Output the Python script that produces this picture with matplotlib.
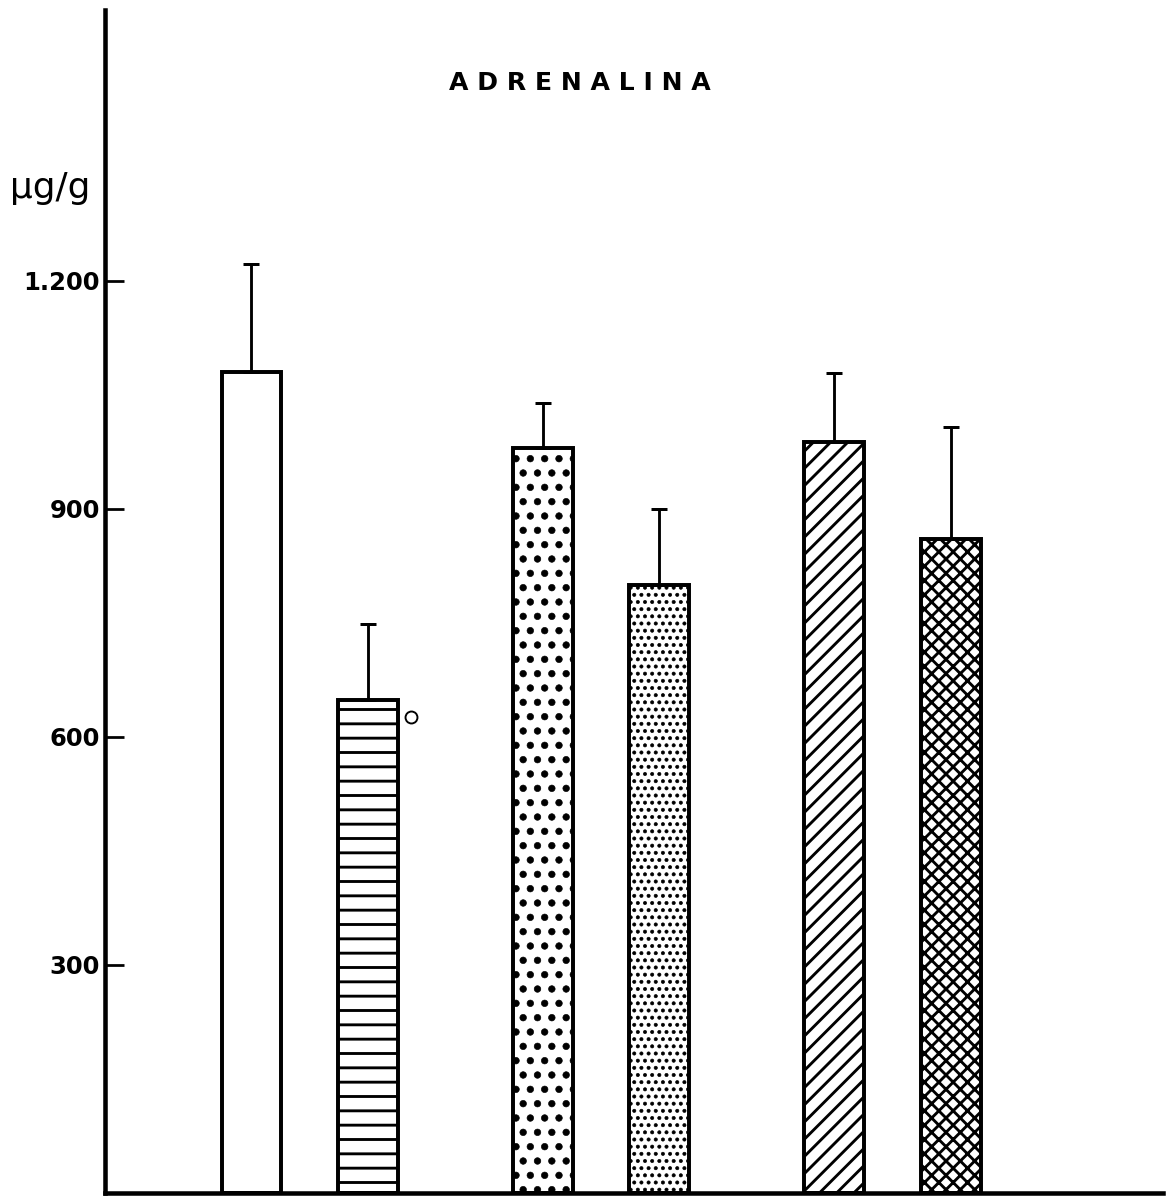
import matplotlib
matplotlib.use("Agg")
import matplotlib.pyplot as plt
import matplotlib.hatch as mhatch

# adrenaline content per group (mean and upper SE)
means = [1080, 648, 980, 800, 988, 860]
errors = [142, 101, 59, 100, 91, 148]
hatches = [None, '-', '.', '..', '//', 'xx']
hatch_widths = [2.4, 2.4, 0.5, 0.5, 2.4, 2.4]
positions = [0, 1, 2.5, 3.5, 5, 6]
tick_values = [300, 600, 900, 1200]
tick_labels = ['300', '600', '900', '1.200']

DPI = 86  # hatch tile is one inch, so this sets the pattern spacing
W, H = 1167, 1196


class SparseNorthEast(mhatch.NorthEastHatch):
    # '/' a bit wider apart than the stock pattern, 'x' unchanged;
    # line count must stay even so the tile repeats without seams
    def __init__(self, hatch, density):
        n = int(hatch.count('/') * density * 5 / 6)
        n += int((hatch.count('x') + hatch.count('X')) * density)
        self.num_lines = n + n % 2
        self.num_vertices = (self.num_lines + 1) * 2 if self.num_lines else 0


_types = mhatch._hatch_types
_types[_types.index(mhatch.NorthEastHatch)] = SparseNorthEast
mhatch.SmallFilledCircles.size = 0.23  # bigger dots than the default

plt.rcParams['hatch.color'] = 'black'
plt.rcParams['font.family'] = 'DejaVu Sans'

fig = plt.figure(figsize=(W / DPI, H / DPI), dpi=DPI)
ax = fig.add_axes([105 / W, 3 / H, 1058 / W, 1183 / H])

width = 0.515
for x, m, h, hw in zip(positions, means, hatches, hatch_widths):
    with plt.rc_context({'hatch.linewidth': hw}):
        ax.bar(x, m, width=width, color='white', edgecolor='black',
               linewidth=3.3, hatch=h, zorder=2)

ax.errorbar(positions, means, yerr=[[0] * len(errors), errors], fmt='none',
            ecolor='black', elinewidth=2.4, capsize=7, capthick=2.5, zorder=3)

# significance mark next to the second bar
ax.plot(positions[1] + width / 2 + 0.11, means[1] - 22, marker='o', ms=10,
        mfc='white', mec='black', mew=1.6, ls='none', zorder=3)

ax.set_xlim(-1.2575, 7.824)
ax.set_ylim(0, 1556)
for side in ['top', 'right']:
    ax.spines[side].set_visible(False)
for side in ['left', 'bottom']:
    ax.spines[side].set_linewidth(3.8)

ax.set_xticks([])
ax.set_yticks(tick_values, tick_labels)
ax.tick_params(axis='y', direction='in', length=15.9, width=2.3, pad=4,
               labelsize=20.3)
for lbl in ax.get_yticklabels():
    lbl.set_fontweight('bold')

fig.text(580 / W, 1 - 83 / H, 'A D R E N A L I N A', ha='center', va='center',
         fontsize=21, fontweight='bold')
fig.text(10 / W, 1 - 188 / H, 'μg/g', ha='left', va='center', fontsize=30)

fig.savefig('out.png', dpi=DPI)
